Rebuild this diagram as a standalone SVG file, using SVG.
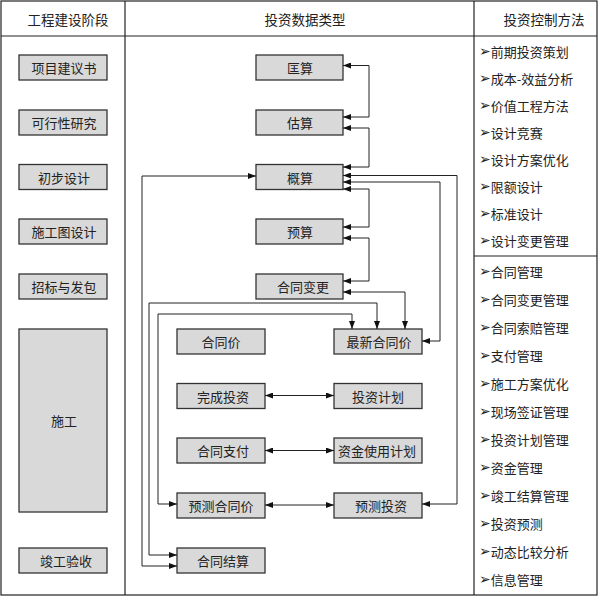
<svg xmlns="http://www.w3.org/2000/svg" width="598" height="596" viewBox="0 0 598 596">
<style>
.frame{fill:none;stroke:#222;stroke-width:1.2}
.box{fill:#d9d9d9;stroke:#333;stroke-width:1.3}
.t{font-family:"Noto Sans CJK SC","DejaVu Sans",sans-serif;font-size:13px;fill:#222;text-anchor:middle;dominant-baseline:central}
.h{font-size:13.5px}
.li{font-family:"Noto Sans CJK SC","DejaVu Sans",sans-serif;font-size:13px;fill:#222;dominant-baseline:central}
.b{font-family:"DejaVu Sans",sans-serif;font-size:14px}
.c{fill:none;stroke:#222;stroke-width:1;marker-start:url(#a);marker-end:url(#a)}
</style>
<defs>
<marker id="a" viewBox="0 0 8 6" refX="8" refY="3" markerWidth="8" markerHeight="6" orient="auto-start-reverse" markerUnits="userSpaceOnUse"><path d="M0,0 L8,3 L0,6 z" fill="#111"/></marker>
</defs>
<rect width="598" height="596" fill="#fff"/>
<g id="table">
<rect class="frame" x="1" y="1" width="596" height="594"/>
<line class="frame" x1="1" y1="36" x2="597" y2="36"/>
<line class="frame" x1="125" y1="1" x2="125" y2="595"/>
<line class="frame" x1="474" y1="1" x2="474" y2="595"/>
<line class="frame" x1="474" y1="256" x2="597" y2="256"/>
<text class="t h" x="68" y="19">工程建设阶段</text>
<text class="t h" x="305" y="19">投资数据类型</text>
<text class="t h" x="544" y="19">投资控制方法</text>
</g>
<g id="stage-1"><rect class="box" x="19" y="55" width="88" height="25"/><text class="t" x="64" y="67.5">项目建议书</text></g>
<g id="stage-2"><rect class="box" x="19" y="110" width="88" height="25"/><text class="t" x="64" y="122.5">可行性研究</text></g>
<g id="stage-3"><rect class="box" x="19" y="164.5" width="88" height="25"/><text class="t" x="64" y="177">初步设计</text></g>
<g id="stage-4"><rect class="box" x="19" y="219" width="88" height="25"/><text class="t" x="64" y="231.5">施工图设计</text></g>
<g id="stage-5"><rect class="box" x="19" y="274" width="88" height="25"/><text class="t" x="64" y="286.5">招标与发包</text></g>
<g id="stage-6"><rect class="box" x="19" y="329" width="88" height="183"/><text class="t" x="64" y="420">施工</text></g>
<g id="stage-7"><rect class="box" x="19" y="548" width="88" height="25"/><text class="t" x="66" y="560.5">竣工验收</text></g>

<g id="d-kuangsuan"><rect class="box" x="256" y="55" width="87" height="25"/><text class="t" x="300" y="67.5">匡算</text></g>
<g id="d-gusuan"><rect class="box" x="256" y="110" width="87" height="25"/><text class="t" x="300" y="122.5">估算</text></g>
<g id="d-gaisuan"><rect class="box" x="256" y="164.5" width="87" height="25"/><text class="t" x="300" y="177">概算</text></g>
<g id="d-yusuan"><rect class="box" x="256" y="219" width="87" height="25"/><text class="t" x="300" y="231.5">预算</text></g>
<g id="d-htbg"><rect class="box" x="256" y="274" width="87" height="25"/><text class="t" x="303" y="286.5">合同变更</text></g>
<g id="d-htj"><rect class="box" x="177" y="329" width="88" height="25"/><text class="t" x="221" y="341.5">合同价</text></g>
<g id="d-zxhtj"><rect class="box" x="334" y="329" width="88" height="25"/><text class="t" x="379" y="341.5">最新合同价</text></g>
<g id="d-wctz"><rect class="box" x="177" y="383.5" width="88" height="25"/><text class="t" x="223" y="396">完成投资</text></g>
<g id="d-tzjh"><rect class="box" x="334" y="383.5" width="88" height="25"/><text class="t" x="378" y="396">投资计划</text></g>
<g id="d-htzf"><rect class="box" x="177" y="438" width="88" height="25"/><text class="t" x="223" y="450.5">合同支付</text></g>
<g id="d-zjsyjh"><rect class="box" x="334" y="438" width="88" height="25"/><text class="t" x="377" y="450.5">资金使用计划</text></g>
<g id="d-ychtj"><rect class="box" x="177" y="493" width="88" height="25"/><text class="t" x="221" y="505.5">预测合同价</text></g>
<g id="d-yctz"><rect class="box" x="334" y="493" width="88" height="25"/><text class="t" x="381" y="505.5">预测投资</text></g>
<g id="d-htjs"><rect class="box" x="177" y="548" width="88" height="25"/><text class="t" x="223" y="560.5">合同结算</text></g>

<g id="connectors">
<path class="c" d="M343,65.5 H369 V117 H343"/>
<path class="c" d="M343,128 H369 V167 H343"/>
<path class="c" d="M343,175.5 H457 V504 H422"/>
<path class="c" d="M343,182 H440 V341 H422"/>
<path class="c" d="M343,189 H369 V227 H343"/>
<path class="c" d="M343,238 H369 V281 H343"/>
<path class="c" d="M343,292 H405 V329"/>
<path class="c" d="M256,176 H142 V566 H177"/>
<path class="c" d="M377,329 V303 H149 V555 H177"/>
<path class="c" d="M352,329 V314 H158 V504 H177"/>
<path class="c" d="M265,395.5 H334"/>
<path class="c" d="M265,450.5 H334"/>
<path class="c" d="M265,505 H334"/>
</g>

<g id="methods">
<text class="li" x="479" y="51"><tspan class="b">➢</tspan>前期投资策划</text>
<text class="li" x="479" y="78"><tspan class="b">➢</tspan>成本-效益分析</text>
<text class="li" x="479" y="105"><tspan class="b">➢</tspan>价值工程方法</text>
<text class="li" x="479" y="132"><tspan class="b">➢</tspan>设计竞赛</text>
<text class="li" x="479" y="159"><tspan class="b">➢</tspan>设计方案优化</text>
<text class="li" x="479" y="186"><tspan class="b">➢</tspan>限额设计</text>
<text class="li" x="479" y="213"><tspan class="b">➢</tspan>标准设计</text>
<text class="li" x="479" y="240"><tspan class="b">➢</tspan>设计变更管理</text>
<text class="li" x="479" y="271"><tspan class="b">➢</tspan>合同管理</text>
<text class="li" x="479" y="299"><tspan class="b">➢</tspan>合同变更管理</text>
<text class="li" x="479" y="327"><tspan class="b">➢</tspan>合同索赔管理</text>
<text class="li" x="479" y="355"><tspan class="b">➢</tspan>支付管理</text>
<text class="li" x="479" y="383"><tspan class="b">➢</tspan>施工方案优化</text>
<text class="li" x="479" y="411"><tspan class="b">➢</tspan>现场签证管理</text>
<text class="li" x="479" y="439"><tspan class="b">➢</tspan>投资计划管理</text>
<text class="li" x="479" y="467"><tspan class="b">➢</tspan>资金管理</text>
<text class="li" x="479" y="495"><tspan class="b">➢</tspan>竣工结算管理</text>
<text class="li" x="479" y="523"><tspan class="b">➢</tspan>投资预测</text>
<text class="li" x="479" y="551"><tspan class="b">➢</tspan>动态比较分析</text>
<text class="li" x="479" y="579"><tspan class="b">➢</tspan>信息管理</text>
</g>
</svg>
